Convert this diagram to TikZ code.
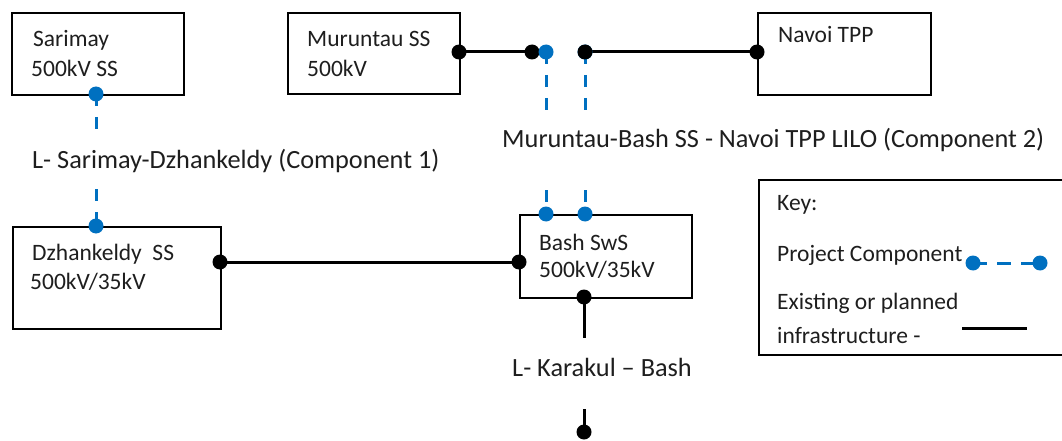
\documentclass[tikz,border=0pt]{standalone}
\usepackage{fontspec}
\setmainfont{Carlito}
\usetikzlibrary{backgrounds}
\definecolor{compblue}{HTML}{0070C0}
\definecolor{txt}{HTML}{1E1E1E}
\begin{document}
\begin{tikzpicture}[x=1pt,y=-1pt,
  box/.style={draw=black, line width=2pt, anchor=north west, inner sep=0pt},
  lbl/.style={anchor=west, inner sep=0pt, font=\fontsize{23.5}{28}\selectfont, text=txt},
  biglbl/.style={anchor=west, inner sep=0pt, font=\fontsize{26.3}{30}\selectfont, text=txt},
  bdot/.style={circle, fill=black, inner sep=0pt, minimum size=15pt},
  cdot/.style={circle, fill=compblue, inner sep=0pt, minimum size=15pt},
  exist/.style={line width=3pt, black},
  comp/.style={line width=3pt, compblue, dash pattern=on 12pt off 11pt},
]
\useasboundingbox (0,0) rectangle (1062,441);

% boxes
\node[box, minimum width=172pt, minimum height=82pt] (sar) at (11,12) {};
\node[box, minimum width=172pt, minimum height=81pt] (mur) at (287,12) {};
\node[box, minimum width=173pt, minimum height=82pt] (nav) at (757,12) {};
\node[box, minimum width=208pt, minimum height=102pt] (dzh) at (12,226) {};
\node[box, minimum width=172pt, minimum height=83pt] (bash) at (519,214) {};
\node[box, minimum width=310pt, minimum height=175pt] (key) at (758,179) {};

% box texts
\node[lbl] (t1) at (33,40) {Sarimay};
\node[lbl] (t2) at (31,68) {500kV SS};
\node[lbl] (t3) at (307,39) {Muruntau SS};
\node[lbl] (t4) at (307,68) {500kV};
\node[lbl] (t5) at (778,35) {Navoi TPP};
\node[lbl] (t6) at (32,254) {Dzhankeldy\ \ SS};
\node[lbl] (t7) at (30,282) {500kV/35kV};
\node[lbl] (t8) at (539,242) {Bash SwS};
\node[lbl] (t9) at (539,270) {500kV/35kV};

% line labels
\node[biglbl] (lab1) at (32,161) {L- Sarimay-Dzhankeldy (Component 1)};
\node[biglbl] (lab2) at (502,140) {Muruntau-Bash SS - Navoi TPP LILO (Component 2)};
\node[biglbl] (lab3) at (512,367) {L- Karakul -- Bash};

% key texts
\node[lbl] (k1) at (777,205) {Key:};
\node[lbl] (k2) at (777,255) {Project Component};
\node[lbl] (k3) at (777,303) {Existing or planned};
\node[lbl] (k4) at (777,335) {infrastructure -};

% free ends of connectors
\coordinate (c1a) at (96,129);
\coordinate (c1b) at (96,189);
\coordinate (c2a) at (546,110);
\coordinate (c2b) at (585,110);
\coordinate (c2c) at (546,190);
\coordinate (c2d) at (585,190);
\coordinate (c3a) at (584,338);
\coordinate (c3b) at (584,409);
\coordinate (ke1) at (962,328);
\coordinate (ke2) at (1027,328);

% dots
\node[cdot] (sarD) at (96,94) {};
\node[cdot] (dzhD) at (96,226) {};
\node[bdot] (murR) at (459,52) {};
\node[bdot] (jL) at (532,52) {};
\node[cdot] (jB1) at (546,52) {};
\node[cdot] (jB2) at (585,52) {};
\node[bdot] (jR) at (585,52) {};
\node[bdot] (navL) at (757,52) {};
\node[cdot] (bB1) at (546,214) {};
\node[cdot] (bB2) at (585,214) {};
\node[bdot] (dzhR) at (220,262) {};
\node[bdot] (bashL) at (519,262) {};
\node[bdot] (bashS) at (584,297) {};
\node[bdot] (kar) at (584,432) {};
\node[cdot] (kd1) at (973,263) {};
\node[cdot] (kd2) at (1040,263) {};

\begin{scope}[on background layer]
  % existing lines
  \draw[exist] (murR.center) -- (jL.center);
  \draw[exist] (jR.center) -- (navL.center);
  \draw[exist] (dzhR.center) -- (bashL.center);
  \draw[exist] (bashS.center) -- (c3a);
  \draw[exist] (c3b) -- (kar.center);
  \draw[exist] (ke1) -- (ke2);
  % project components
  \draw[comp] (sarD.center) -- (c1a);
  \draw[comp] (c1b) -- (dzhD.center);
  \draw[comp] (jB1.center) -- (c2a);
  \draw[comp] (jB2.center) -- (c2b);
  \draw[comp] (c2c) -- (bB1.center);
  \draw[comp] (c2d) -- (bB2.center);
  \draw[comp, dash pattern=on 14pt off 10pt] (kd1.center) -- (kd2.center);
\end{scope}
\end{tikzpicture}
\end{document}
